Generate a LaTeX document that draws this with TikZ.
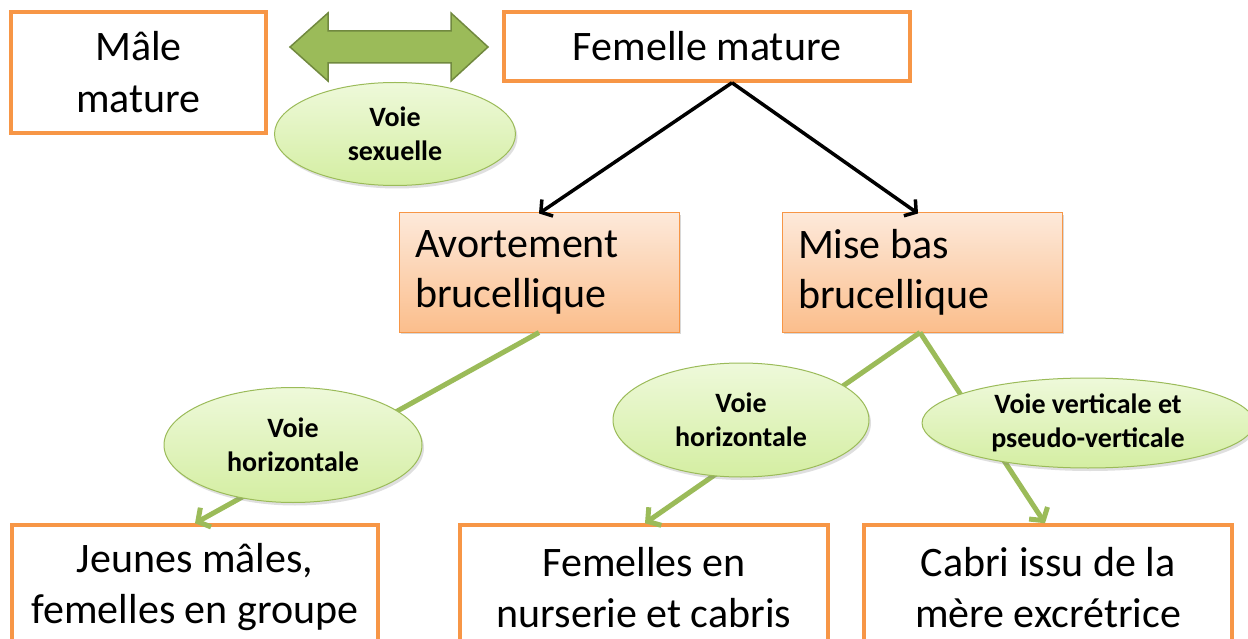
\documentclass[tikz,border=0pt]{standalone}
\usepackage{fontspec}
\setmainfont{Carlito}
\usetikzlibrary{shapes.geometric,arrows.meta,shadows}
\definecolor{orbord}{HTML}{F79646}
\definecolor{ortop}{HTML}{FDE9DA}
\definecolor{orbot}{HTML}{FBBE8C}
\definecolor{grfill}{HTML}{9BBB59}
\definecolor{grbord}{HTML}{71893F}
\definecolor{ovtop}{HTML}{EEF9DA}
\definecolor{ovbot}{HTML}{D4EEA2}
\definecolor{ovbord}{HTML}{9BBB59}
\tikzset{
  plainbox/.style={draw=orbord, line width=3.5pt, fill=white, inner sep=0pt,
    align=center, font=\fontsize{42}{51}\selectfont},
  fillbox/.style={draw=orbord, line width=1pt, top color=ortop, bottom color=orbot,
    inner sep=0pt, text width=248pt, align=flush left,
    drop shadow={opacity=0.3, shadow xshift=2pt, shadow yshift=-2pt},
    font=\fontsize{42}{50}\selectfont},
  oval/.style={ellipse, draw=ovbord, line width=1pt, top color=ovtop, bottom color=ovbot,
    inner sep=0pt, align=center,
    drop shadow={opacity=0.25, shadow xshift=2pt, shadow yshift=-3pt},
    font=\bfseries\fontsize{28}{34}\selectfont},
  gline/.style={draw=grfill, line width=5pt, -{Straight Barb[length=9pt,width=22pt]}},
  bline/.style={draw=black, line width=3.5pt, -{Straight Barb[length=8pt,width=20pt]}},
  dblarrow/.style={fill=grfill, draw=grbord, line width=1.5pt, line join=miter}
}
\begin{document}
\begin{tikzpicture}[x=1pt,y=-1pt]
\useasboundingbox (0,0) rectangle (1248,639);
\clip (0,0) rectangle (1248,639);
\fill[white] (0,0) rectangle (1248,639);

% top row
\node[plainbox, minimum width=255pt, minimum height=121pt, font=\fontsize{42}{52}\selectfont] (male) at (138.5,72.5) {Mâle\\mature};
\node[plainbox, minimum width=406pt, minimum height=69pt] (fem) at (707,46.5) {Femelle mature};

% double arrow
\path[dblarrow] (290,47) -- (328,13) -- (328,31) -- (451,31) -- (451,13) -- (488,47)
  -- (451,81) -- (451,63) -- (328,63) -- (328,81) -- cycle;

% middle row
\node[fillbox, minimum width=280pt, minimum height=119pt] (avort) at (539,272.5) {Avortement\\brucellique};
\node[fillbox, minimum width=280pt, minimum height=119pt] (mise) at (922,272.5) {Mise bas\\brucellique};

% bottom row
\node[plainbox, minimum width=366pt, minimum height=125pt] (jeunes) at (195,587.5) {Jeunes mâles,\\femelles en groupe};
\node[plainbox, minimum width=368pt, minimum height=125pt] (nurs) at (644,587.5) {Femelles en\\nurserie et cabris};
\node[plainbox, minimum width=368pt, minimum height=125pt] (cabri) at (1048,587.5) {Cabri issu de la\\mère excrétrice};

% black arrows
\coordinate (split) at ([xshift=25pt]fem.south);
\draw[bline] (split) -- ([yshift=-1pt]avort.north);
\draw[bline] (split) -- ([xshift=-4pt,yshift=-1pt]mise.north);

% green connectors
\draw[gline] (avort.south) -- (jeunes.north);
\draw[gline] ([xshift=-2pt]mise.south) -- ([xshift=1pt]nurs.north);
\draw[gline] ([xshift=-2pt]mise.south) -- ([xshift=-3pt]cabri.north);

% ellipses
\node[oval, minimum width=241pt, minimum height=103pt] (sex) at (395,134) {Voie\\sexuelle};
\node[oval, minimum width=258pt, minimum height=115pt] (hor1) at (293,445) {Voie\\horizontale};
\node[oval, minimum width=256pt, minimum height=114pt] (hor2) at (741,420) {Voie\\horizontale};
\node[oval, minimum width=332pt, minimum height=90pt] (vert) at (1088,423) {Voie verticale et\\pseudo-verticale};
\end{tikzpicture}
\end{document}
